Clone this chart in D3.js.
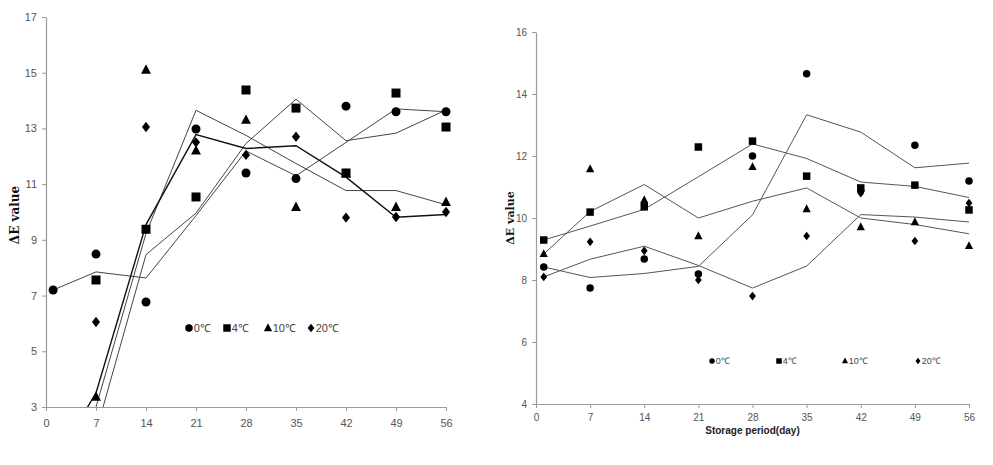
<!DOCTYPE html>
<html>
<head>
<meta charset="utf-8">
<script src="https://cdn.jsdelivr.net/npm/d3@7"></script>
<style>
  html, body { margin: 0; padding: 0; background: #fff; }
  svg { display: block; }
  .tick text { font-family: "Liberation Sans", Arial, sans-serif; fill: #555; }
</style>
</head>
<body>
<svg id="chart" width="993" height="465"></svg>
<script>
// ---------- data ----------
const days = [1, 7, 14, 21, 28, 35, 42, 49, 56];
const xTickValues = [0, 7, 14, 21, 28, 35, 42, 49, 56];
const seriesNames = ["0℃", "4℃", "10℃", "20℃"];
const leftYTicks = [3, 5, 7, 9, 11, 13, 15, 17];
const rightYTicks = [4, 6, 8, 10, 12, 14, 16];

// Left panel: measured ΔE values (null = below the axis minimum / not shown)
const leftCircle   = [7.2, 8.49, 6.77, 12.98, 11.4, 11.2, 13.8, 13.6, 13.6];
const leftSquare   = [null, 7.56, 9.38, 10.54, 14.38, 13.73, 11.4, 14.27, 13.05];
const leftTriangle = [null, 3.36, 15.1, 12.2, 13.3, 10.17, 11.37, 10.17, 10.35];
const leftDiamond  = [null, 6.05, 13.05, 12.5, 12.05, 12.7, 9.8, 9.82, 10.0];

// Left panel: trend line vertices
const leftCircleTrend   = [7.2, 7.85, 7.63, 9.87, 12.19, 11.3, 12.5, 13.7, 13.6];
const leftSquareTrend   = [null, 2.1, 8.47, 9.96, 12.46, 14.05, 12.56, 12.83, 13.66];
const leftTriangleTrend = [null, 3.0, 9.23, 13.65, 12.75, 11.74, 10.77, 10.77, 10.26];
const leftDiamondTrend  = [0.95, 3.5, 9.55, 12.78, 12.28, 12.38, 11.25, 9.81, 9.91];

// Right panel: measured ΔE values
const rightCircle   = [8.42, 7.74, 8.68, 8.19, 12.0, 14.65, 10.89, 12.35, 11.19];
const rightSquare   = [9.29, 10.19, 10.36, 12.29, 12.48, 11.35, 10.97, 11.06, 10.26];
const rightTriangle = [8.84, 11.58, 10.58, 9.42, 11.65, 10.29, 9.71, 9.87, 9.1];
const rightDiamond  = [8.1, 9.23, 8.94, 8.0, 7.48, 9.42, 10.8, 9.26, 10.48];

// Right panel: trend line vertices
const rightCircleTrend   = [8.42, 8.08, 8.21, 8.44, 10.1, 13.33, 12.77, 11.62, 11.77];
const rightSquareTrend   = [9.29, 9.74, 10.28, 11.33, 12.39, 11.92, 11.16, 11.02, 10.66];
const rightTriangleTrend = [8.84, 10.21, 11.08, 10.0, 10.54, 10.97, 10.0, 9.79, 9.49];
const rightDiamondTrend  = [8.1, 8.67, 9.09, 8.47, 7.74, 8.45, 10.11, 10.03, 9.87];

const yTitle = "ΔE value";
const xTitleRight = "Storage period(day)";

// ---------- drawing ----------
const svg = d3.select("#chart");
const shapes = ["circle", "square", "triangle", "diamond"];

function markerPath(shape, s) {
  const p = d3.path();
  if (shape === "circle") {
    const r = s / 2;
    p.arc(0, 0, r, 0, 2 * Math.PI);
  } else if (shape === "square") {
    const h = s / 2;
    p.rect(-h, -h, s, s);
  } else if (shape === "triangle") {
    const w = s * 1.1, h = s * 1.05;
    p.moveTo(0, -h * 0.6); p.lineTo(w / 2, h * 0.4); p.lineTo(-w / 2, h * 0.4); p.closePath();
  } else {
    const w = s * 0.9, h = s * 1.15;
    p.moveTo(0, -h / 2); p.lineTo(w / 2, 0); p.lineTo(0, h / 2); p.lineTo(-w / 2, 0); p.closePath();
  }
  return p.toString();
}

function panel(cfg) {
  const g = svg.append("g");
  const x = d3.scaleLinear().domain([0, 56]).range(cfg.xRange);
  const y = d3.scaleLinear().domain(cfg.yDomain).range(cfg.yRange);

  const clipId = "clip" + cfg.id;
  svg.append("clipPath").attr("id", clipId).append("rect")
    .attr("x", cfg.xRange[0]).attr("y", cfg.yRange[1] - 6)
    .attr("width", cfg.xRange[1] - cfg.xRange[0] + 6)
    .attr("height", cfg.yRange[0] - cfg.yRange[1] + 6);
  const lineClipId = "lclip" + cfg.id;
  svg.append("clipPath").attr("id", lineClipId).append("rect")
    .attr("x", cfg.xRange[0]).attr("y", cfg.yRange[1])
    .attr("width", cfg.xRange[1] - cfg.xRange[0] + 2)
    .attr("height", cfg.yRange[0] - cfg.yRange[1]);

  // axes
  const yAxis = d3.axisLeft(y).tickValues(cfg.yTicks).tickSize(4).tickSizeOuter(0).tickPadding(5)
    .tickFormat(d3.format("d"));
  const gy = g.append("g").attr("transform", `translate(${cfg.xRange[0]},0)`).call(yAxis);
  const xAxis = d3.axisBottom(x).tickValues(xTickValues).tickSize(4).tickSizeOuter(0).tickPadding(cfg.xPad)
    .tickFormat(d3.format("d"));
  const gx = g.append("g").attr("transform", `translate(0,${cfg.yRange[0]})`).call(xAxis);
  [gx, gy].forEach(a => {
    a.select(".domain").attr("stroke", "#9a9a9a").attr("stroke-width", 1.2);
    a.selectAll(".tick line").attr("stroke", "#9a9a9a");
    a.selectAll(".tick text").attr("font-size", cfg.tickFont);
  });

  // trend lines
  const line = d3.line()
    .defined(d => d.v !== null)
    .x(d => x(d.day)).y(d => y(d.v));
  const lg = g.append("g").attr("clip-path", `url(#${lineClipId})`);
  cfg.trends.forEach((t, i) => {
    const data = days.map((day, k) => ({ day, v: t[k] }));
    lg.append("path").datum(data)
      .attr("d", line)
      .attr("fill", "none")
      .attr("stroke", cfg.lineColors[i])
      .attr("stroke-width", cfg.lineWidths[i])
      .attr("stroke-linejoin", "miter");
  });

  // markers
  const mg = g.append("g").attr("clip-path", `url(#${clipId})`);
  cfg.points.forEach((arr, i) => {
    const data = days.map((day, k) => ({ day, v: arr[k] })).filter(d => d.v !== null);
    mg.selectAll(null).data(data).enter().append("path")
      .attr("transform", d => `translate(${x(d.day)},${y(d.v)})`)
      .attr("d", markerPath(shapes[i], cfg.markerSize))
      .attr("fill", "#000");
  });

  // legend
  const leg = g.append("g");
  seriesNames.forEach((name, i) => {
    const lx = cfg.legendX[i], ly = cfg.legendY;
    leg.append("path").attr("transform", `translate(${lx},${ly})`)
      .attr("d", markerPath(shapes[i], cfg.legendMarker)).attr("fill", "#000");
    leg.append("text").attr("x", lx + cfg.legendMarker / 2 + 1).attr("y", ly)
      .attr("dominant-baseline", "central")
      .attr("font-family", "'Liberation Sans', Arial, sans-serif")
      .attr("font-size", cfg.legendFont).attr("fill", "#444").text(name);
  });

  // y title
  g.append("text")
    .attr("transform", `translate(${cfg.yTitlePos[0]},${cfg.yTitlePos[1]}) rotate(-90)`)
    .attr("text-anchor", "middle").attr("dominant-baseline", "central")
    .attr("font-family", "'DejaVu Serif', serif").attr("font-weight", "bold")
    .attr("font-size", cfg.yTitleFont).attr("fill", "#111").text(yTitle);

  if (cfg.xTitle) {
    g.append("text").attr("x", x(28)).attr("y", cfg.xTitleY)
      .attr("text-anchor", "middle")
      .attr("font-family", "'Liberation Sans', Arial, sans-serif").attr("font-weight", "bold")
      .attr("font-size", 10).attr("fill", "#222").text(cfg.xTitle);
  }
}

panel({
  id: "L",
  xRange: [46, 446], yDomain: [3, 17], yRange: [407, 17], yTicks: leftYTicks,
  tickFont: 11, xPad: 8,
  points: [leftCircle, leftSquare, leftTriangle, leftDiamond],
  trends: [leftCircleTrend, leftSquareTrend, leftTriangleTrend, leftDiamondTrend],
  lineColors: ["#444", "#444", "#444", "#111"],
  lineWidths: [1, 1, 1, 1.4],
  markerSize: 9,
  legendX: [189, 227, 268, 311], legendY: 328, legendMarker: 7.5, legendFont: 11,
  yTitlePos: [15, 215], yTitleFont: 12,
  xTitle: null
});

panel({
  id: "R",
  xRange: [536, 969], yDomain: [4, 16], yRange: [404, 32], yTicks: rightYTicks,
  tickFont: 10, xPad: 6,
  points: [rightCircle, rightSquare, rightTriangle, rightDiamond],
  trends: [rightCircleTrend, rightSquareTrend, rightTriangleTrend, rightDiamondTrend],
  lineColors: ["#555", "#555", "#555", "#555"],
  lineWidths: [1, 1, 1, 1],
  markerSize: 7.5,
  legendX: [712, 779, 845, 918], legendY: 361, legendMarker: 5.5, legendFont: 9,
  yTitlePos: [510, 218], yTitleFont: 11,
  xTitle: xTitleRight, xTitleY: 434
});
</script>
</body>
</html>
